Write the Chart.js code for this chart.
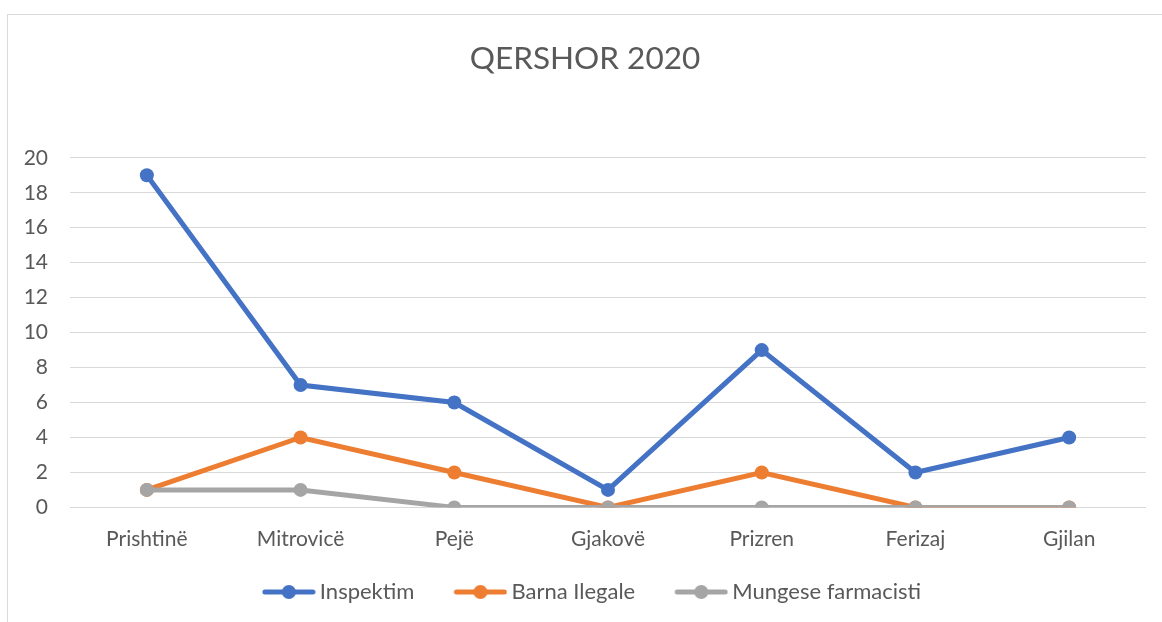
<!DOCTYPE html>
<html>
<head>
<meta charset="utf-8">
<script src="https://cdn.jsdelivr.net/npm/chart.js@4"></script>
<style>
  body { margin: 0; background: #fff; }
  .frame { position: absolute; left: 7px; top: 14px; width: 1170px; height: 640px; border: 1px solid #d9d9d9; box-sizing: border-box; }
  .wrap { position: absolute; left: 0; top: 0; width: 1162px; height: 622px; }
</style>
</head>
<body>
<div class="frame"></div>
<div class="wrap"><canvas id="chart" width="1162" height="622"></canvas></div>
<script>
const cities = ['Prishtinë', 'Mitrovicë', 'Pejë', 'Gjakovë', 'Prizren', 'Ferizaj', 'Gjilan']
const inspektim = [19, 7, 6, 1, 9, 2, 4]
const barnaIlegale = [1, 4, 2, 0, 2, 0, 0]
const mungeseFarmacisti = [1, 1, 0, 0, 0, 0, 0]

const textColor = '#595959'
const font = 'Lato, "Open Sans", sans-serif'

// line-with-dot icon for the legend, like excel draws it.
// left part of the canvas stays empty so the icon sits close to its text
function legendIcon(color) {
    const c = document.createElement('canvas')
    c.width = 74
    c.height = 18
    const g = c.getContext('2d')
    g.strokeStyle = color
    g.lineWidth = 5
    g.lineCap = 'round'
    g.beginPath()
    g.moveTo(23, 9)
    g.lineTo(71, 9)
    g.stroke()
    g.fillStyle = color
    g.beginPath()
    g.arc(47, 9, 7, 0, Math.PI * 2)
    g.fill()
    return c
}

function series(label, data, color, order) {
    return {
        label: label,
        data: data,
        borderColor: color,
        backgroundColor: color,
        borderWidth: 5,
        pointRadius: 7,
        pointHoverRadius: 7,
        pointBackgroundColor: color,
        pointBorderWidth: 0,
        tension: 0,
        order: order,
        icon: legendIcon(color)
    }
}

const ctx = document.getElementById('chart').getContext('2d')
new Chart(ctx, {
    type: 'line',
    data: {
        labels: cities,
        datasets: [
            series('Inspektim', inspektim, '#4472C4', 2),
            series('Barna Ilegale', barnaIlegale, '#ED7D31', 1),
            series('Mungese farmacisti', mungeseFarmacisti, '#A5A5A5', 0)
        ]
    },
    options: {
        responsive: false,
        animation: false,
        layout: { padding: { top: 28, left: 24, right: 16, bottom: 9 } },
        scales: {
            x: {
                offset: true,
                grid: { display: false },
                border: { display: false },
                ticks: { color: textColor, font: { family: font, size: 21 }, padding: 11.4 },
                afterFit: s => { s.height = 47.6 }
            },
            y: {
                min: 0,
                max: 20,
                ticks: { stepSize: 2, color: textColor, font: { family: font, size: 21 }, padding: 22 },
                grid: { color: '#d9d9d9', lineWidth: 1, drawTicks: false },
                border: { display: false },
                afterFit: s => { s.width = 46 }
            }
        },
        plugins: {
            title: {
                display: true,
                text: 'QERSHOR 2020',
                color: textColor,
                font: { family: font, size: 31.5, weight: 'normal' },
                padding: { top: 12, bottom: 80 }
            },
            legend: {
                position: 'bottom',
                labels: {
                    usePointStyle: true,
                    pointStyleWidth: 60,
                    boxHeight: 16,
                    padding: 26,
                    color: textColor,
                    font: { family: font, size: 22 },
                    sort: (a, b) => a.datasetIndex - b.datasetIndex,
                    generateLabels: chart => {
                        const items = Chart.defaults.plugins.legend.labels.generateLabels(chart)
                        items.forEach(i => { i.pointStyle = chart.data.datasets[i.datasetIndex].icon })
                        return items
                    }
                }
            },
            tooltip: { enabled: false }
        }
    }
})
</script>
</body>
</html>
